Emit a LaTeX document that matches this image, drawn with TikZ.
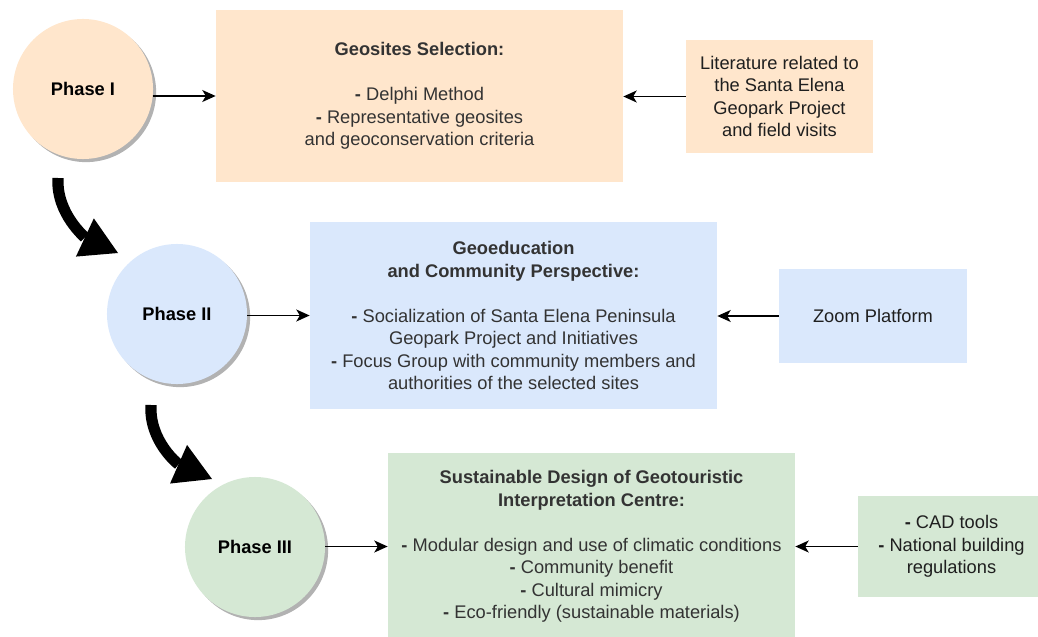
\documentclass[tikz,border=0pt]{standalone}
\usepackage{fontspec}
\setmainfont{Liberation Sans}
\usepackage{tikz}
\usetikzlibrary{arrows.meta,shadows}

\definecolor{peach}{HTML}{FFE6CC}
\definecolor{skyblue}{HTML}{DAE8FC}
\definecolor{mint}{HTML}{D5E8D4}
\definecolor{textgray}{HTML}{333333}

\begin{document}
\begin{tikzpicture}[x=0.025cm,y=-0.025cm,
    font=\fontsize{13}{16}\selectfont,
    phase/.style={circle,minimum size=3.5cm,inner sep=0pt,font=\fontsize{13}{16}\selectfont\bfseries,
        drop shadow={shadow xshift=2.2pt,shadow yshift=-2.2pt,fill=black!30,opacity=1}},
    stagebox/.style={rectangle,inner sep=0pt,align=center,text=textgray,minimum width=10.175cm},
    sourcebox/.style={rectangle,inner sep=0pt,align=center,text=black!88},
    link/.style={line width=1.1pt,-{Stealth[length=9.5pt,width=8.5pt,inset=2.5pt]}},
    bigarrow/.style={line width=8pt,-{Triangle[length=26pt,width=30pt,line width=0pt]}}]

    % Rahmen
    \clip (0,0) rectangle (1038,637);

    % Phasen
    \node[phase,fill=peach] (p1) at (83,89) {Phase I};
    \node[phase,fill=skyblue] (p2) at (177,314) {Phase II};
    \node[phase,fill=mint] (p3) at (255,547) {Phase III};

    % Inhalte
    \node[stagebox,fill=peach,minimum height=4.3cm] (b1) at (419.5,96)
        {\textbf{Geosites Selection:}\\[16pt]
         \textbf{-} Delphi Method\\
         \textbf{-} Representative geosites\\
         and geoconservation criteria};
    \node[stagebox,fill=skyblue,minimum height=4.675cm] (b2) at (513.5,315.5)
        {\textbf{Geoeducation}\\
         \textbf{and Community Perspective:}\\[16pt]
         \textbf{-} Socialization of Santa Elena Peninsula\\
         Geopark Project and Initiatives\\
         \textbf{-} Focus Group with community members and\\
         authorities of the selected sites};
    \node[stagebox,fill=mint,minimum height=4.675cm] (b3) at (591.5,546.5)
        {\textbf{Sustainable Design of Geotouristic}\\
         \textbf{Interpretation Centre:}\\[16pt]
         \textbf{-} Modular design and use of climatic conditions\\
         \textbf{-} Community benefit\\
         \textbf{-} Cultural mimicry\\
         \textbf{-} Eco-friendly (sustainable materials)};

    % Quellen
    \node[sourcebox,fill=peach,minimum width=4.675cm,minimum height=2.825cm] (r1) at (779.5,96.5)
        {Literature related to\\ the Santa Elena\\ Geopark Project\\ and field visits};
    \node[sourcebox,fill=skyblue,minimum width=4.7cm,minimum height=2.35cm] (r2) at (873,316)
        {Zoom Platform};
    \node[sourcebox,fill=mint,minimum width=4.675cm,minimum height=2.525cm] (r3) at (951.5,546.5)
        {\textbf{-} CAD tools\\ \textbf{-} National building\\ regulations};

    % Pfeile
    \draw[link] (p1.east |- b1.west) -- (b1.west);
    \draw[link] (p2.east |- b2.west) -- (b2.west);
    \draw[link] (p3.east |- b3.west) -- (b3.west);
    \draw[link] (r1.west) -- (b1.east |- r1.west);
    \draw[link] (r2.west) -- (b2.east |- r2.west);
    \draw[link] (r3.west) -- (b3.east |- r3.west);

    % Uebergaenge
    \coordinate (s1) at (58,178);
    \coordinate (t1) at (118,253);
    \coordinate (s2) at (151,405);
    \coordinate (t2) at (212,479);
    \draw[bigarrow] (s1) .. controls (56,214) and (86,238) .. (t1);
    \draw[bigarrow] (s2) .. controls (149,441) and (178,464) .. (t2);
\end{tikzpicture}
\end{document}
